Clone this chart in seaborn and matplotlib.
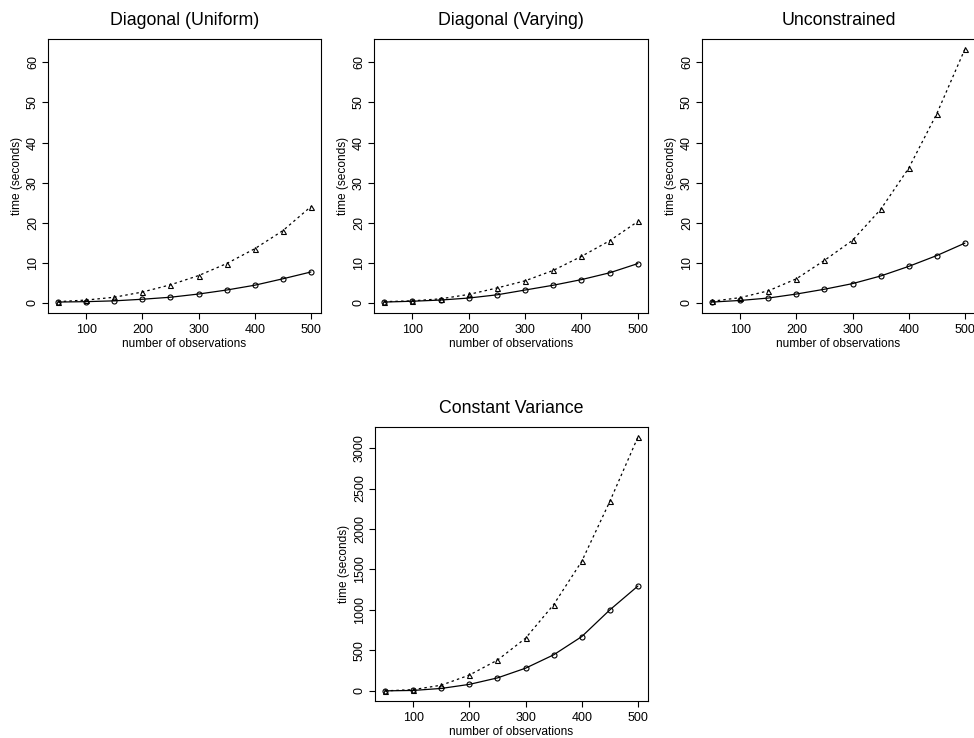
import numpy as np
import pandas as pd
import matplotlib
matplotlib.use('Agg')
import matplotlib.pyplot as plt
import seaborn as sns

# data
n_obs = [50, 100, 150, 200, 250, 300, 350, 400, 450, 500]

diag_unif_circle = [0.2, 0.3, 0.5, 0.9, 1.4, 2.2, 3.2, 4.4, 6.0, 7.7]
diag_unif_tri = [0.3, 0.7, 1.4, 2.7, 4.5, 6.8, 9.8, 13.5, 18.0, 24.0]

diag_vary_circle = [0.2, 0.4, 0.7, 1.2, 2.0, 3.2, 4.4, 5.8, 7.5, 9.8]
diag_vary_tri = [0.3, 0.5, 1.0, 2.1, 3.7, 5.5, 8.1, 11.6, 15.5, 20.3]

unconstr_circle = [0.2, 0.6, 1.2, 2.2, 3.4, 4.8, 6.7, 9.1, 11.8, 14.9]
unconstr_tri = [0.4, 1.3, 3.0, 6.0, 10.6, 15.6, 23.3, 33.6, 47.2, 63.3]

constvar_circle = [0, 5, 30, 80, 160, 280, 445, 670, 1000, 1295]
constvar_tri = [0, 15, 70, 195, 380, 650, 1065, 1600, 2340, 3135]

titles = ['Diagonal (Uniform)', 'Diagonal (Varying)', 'Unconstrained', 'Constant Variance']
series = [
    (diag_unif_circle, diag_unif_tri),
    (diag_vary_circle, diag_vary_tri),
    (unconstr_circle, unconstr_tri),
    (constvar_circle, constvar_tri),
]

sns.set_style('ticks')
plt.rcParams['font.family'] = ['Liberation Sans', 'DejaVu Sans']
plt.rcParams['text.color'] = 'black'
plt.rcParams['axes.labelcolor'] = 'black'
plt.rcParams['xtick.color'] = 'black'
plt.rcParams['ytick.color'] = 'black'
plt.rcParams['axes.edgecolor'] = 'black'

W, H = 974, 738
fig = plt.figure(figsize=(W / 100, H / 100), dpi=100)

# axes boxes in pixels: (left, top, right, bottom)
boxes = [(48, 39, 321, 313), (374, 39, 648, 313), (702, 39, 975, 313), (375, 427, 648, 701)]

ymax_top = max(max(s[0] + s[1]) for s in series[:3])

for i, (title, (circ, tri), box) in enumerate(zip(titles, series, boxes)):
    l, t, r, b = box
    ax = fig.add_axes([l / W, (H - b) / H, (r - l) / W, (b - t) / H])
    df = pd.DataFrame({'n': n_obs, 'circle': circ, 'tri': tri})
    sns.lineplot(data=df, x='n', y='circle', ax=ax, color='black', lw=0.9,
                 marker='o', markersize=3.6, markerfacecolor='none',
                 markeredgecolor='black', markeredgewidth=0.8)
    sns.lineplot(data=df, x='n', y='tri', ax=ax, color='black', lw=0.9,
                 linestyle=(0, (2, 2.5)), marker='^', markersize=3.6,
                 markerfacecolor='none', markeredgecolor='black',
                 markeredgewidth=0.8)
    ymax = ymax_top if i < 3 else max(tri)
    ax.set_ylim(-0.04 * ymax, ymax * 1.04)
    ax.set_xlim(50 - 0.04 * 450, 500 + 0.04 * 450)
    ax.set_xticks([100, 200, 300, 400, 500])
    if i < 3:
        ax.set_yticks([0, 10, 20, 30, 40, 50, 60])
    else:
        ax.set_yticks([0, 500, 1000, 1500, 2000, 2500, 3000])
    ax.tick_params(axis='both', labelsize=9, length=4, width=0.8)
    ax.tick_params(axis='x', pad=4)
    ax.tick_params(axis='y', pad=2.5)
    for lab in ax.get_yticklabels():
        lab.set_rotation(90)
        lab.set_va('center')
    ax.set_xlabel('number of observations', fontsize=8.6, labelpad=1.5)
    ax.set_ylabel('time (seconds)', fontsize=8.6)
    ax.yaxis.set_label_coords(-25 / (r - l), 0.5)
    ax.set_title(title, fontsize=12.8, pad=10)
    for sp in ax.spines.values():
        sp.set_visible(True)
        sp.set_linewidth(0.8)

fig.savefig('out.png', dpi=100)
